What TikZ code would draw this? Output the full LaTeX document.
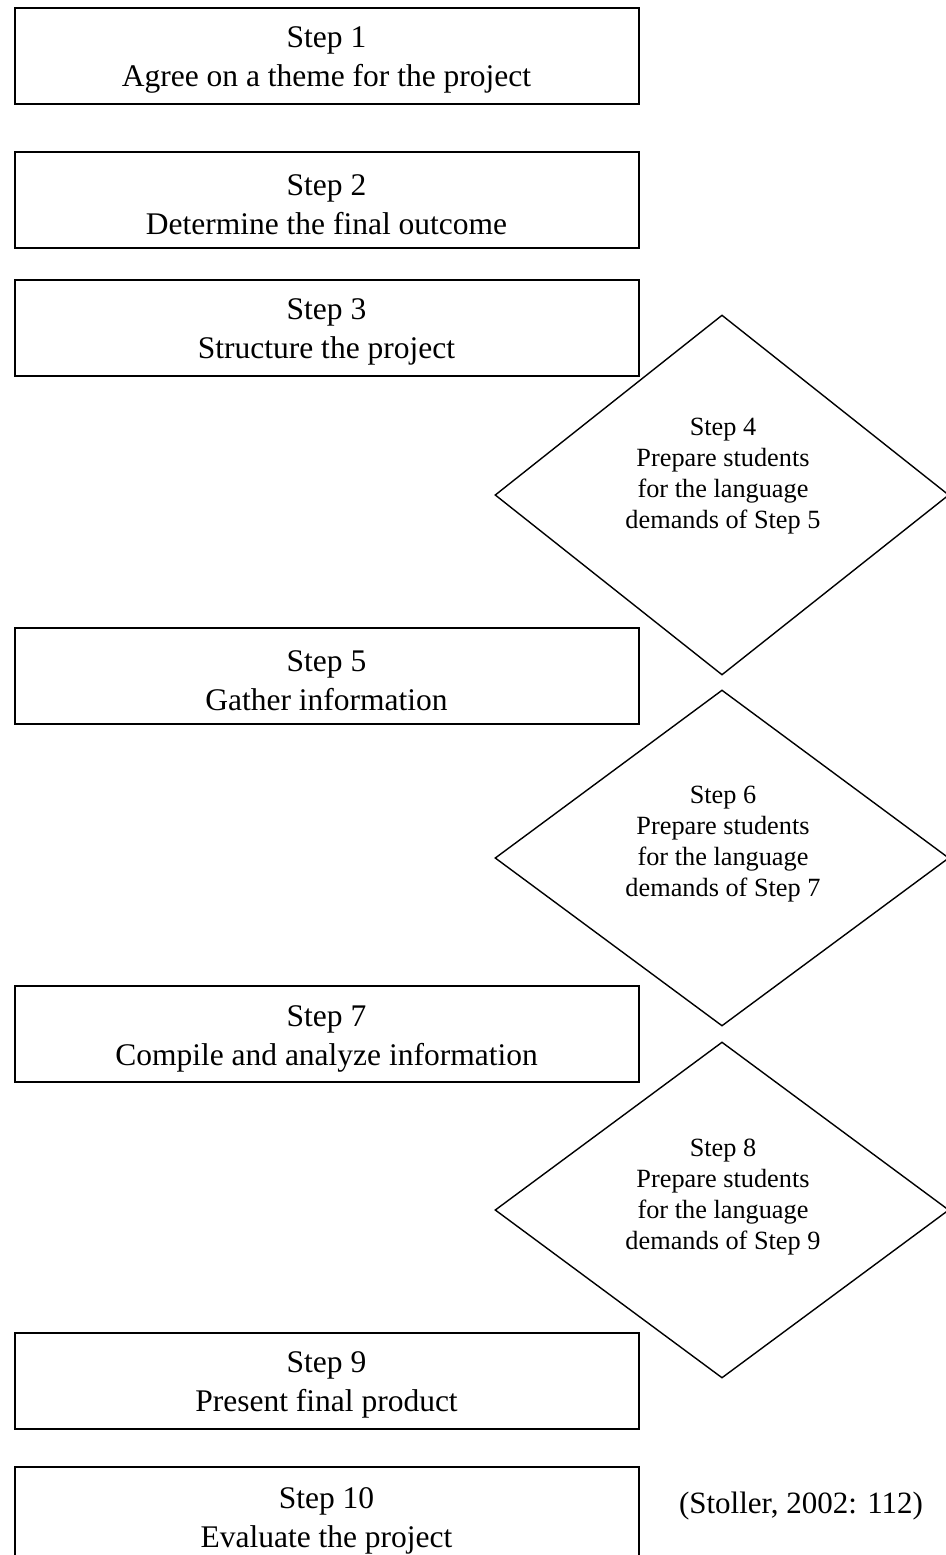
\documentclass[tikz,border=0pt]{standalone}
\usepackage{fontspec}
\setmainfont{Liberation Serif}
\usetikzlibrary{shapes.geometric}
% taller first line, so the two lines sit a little low in their box
\newcommand{\topstrut}{\rule{0pt}{15pt}}
\begin{document}
\begin{tikzpicture}[x=0.5pt,y=-0.5pt,
  stepbox/.style={draw=black, line width=1pt, rectangle, minimum width=312pt,
    minimum height=48pt, inner sep=0pt, align=center,
    font=\fontsize{15.75}{19.5}\selectfont},
  stepdiamond/.style={draw=black, line width=0.7pt, diamond, inner sep=0pt,
    minimum width=227pt},
  diamondtext/.style={align=center, inner sep=0pt,
    font=\fontsize{13.15}{15.5}\selectfont},
  source/.style={inner sep=0pt, font=\fontsize{15.5}{19}\selectfont}]
\clip (0,0) rectangle (946,1555);

% rectangular steps
\node[stepbox] (s1)  at (326.5,55.5)  {\topstrut Step 1\\Agree on a theme for the project};
\node[stepbox] (s2)  at (326.5,200)   {\topstrut Step 2\\Determine the final outcome};
\node[stepbox] (s3)  at (326.5,327.5) {\topstrut Step 3\\Structure the project};
\node[stepbox] (s5)  at (326.5,676)   {\topstrut Step 5\\Gather information};
\node[stepbox] (s7)  at (326.5,1034)  {\topstrut Step 7\\Compile and analyze information};
\node[stepbox] (s9)  at (326.5,1380.5){\topstrut Step 9\\Present final product};
\node[stepbox, minimum height=49pt] (s10) at (326.5,1516) {\topstrut Step 10\\Evaluate the project};

% language-preparation steps
\node[stepdiamond, minimum height=180pt] (d4) at (722,495) {};
\node[stepdiamond, minimum height=168pt] (d6) at (722,858) {};
\node[stepdiamond, minimum height=168pt] (d8) at (722,1210) {};
\node[diamondtext] (t4) at (723,476.5) {Step 4\\Prepare students\\for the language\\demands of Step 5};
\node[diamondtext] (t6) at (723,844.5) {Step 6\\Prepare students\\for the language\\demands of Step 7};
\node[diamondtext] (t8) at (723,1197)  {Step 8\\Prepare students\\for the language\\demands of Step 9};

% source
\node[source] (src) at (801,1506) {(Stoller, 2002: 112)};
\end{tikzpicture}
\end{document}
